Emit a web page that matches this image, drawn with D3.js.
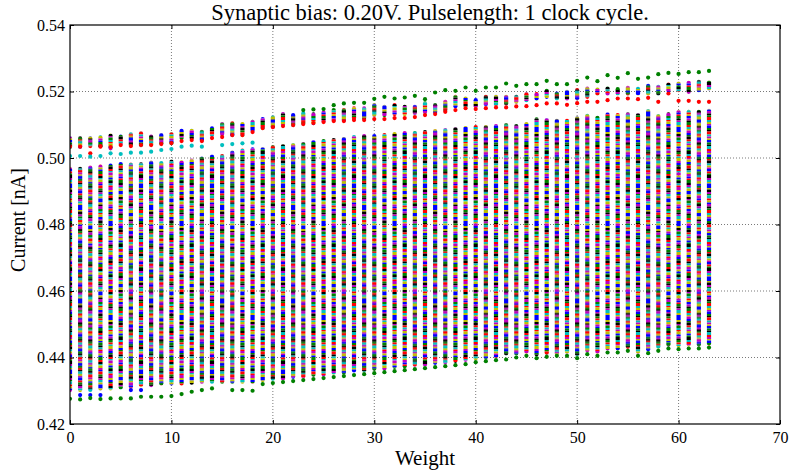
<!DOCTYPE html>
<html>
<head>
<meta charset="utf-8">
<script src="https://cdn.jsdelivr.net/npm/d3@7"></script>
<style>
  body { margin: 0; background: #fff; }
  svg { display: block; font-family: "Liberation Serif", "DejaVu Serif", serif; }
</style>
</head>
<body>
<script>
// weights (x) and tick labels
const weights = [0,1,2,3,4,5,6,7,8,9,10,11,12,13,14,15,16,17,18,19,20,21,22,23,24,25,26,27,28,29,30,31,
  32,33,34,35,36,37,38,39,40,41,42,43,44,45,46,47,48,49,50,51,52,53,54,55,56,57,58,59,60,61,62,63];
const xTicks = [0, 10, 20, 30, 40, 50, 60, 70];
const yTicks = [0.42, 0.44, 0.46, 0.48, 0.50, 0.52, 0.54];

// dense band of curves: top and bottom current per weight [nA]
const bandHigh = [0.4967,0.4967,0.4971,0.4974,0.4977,0.4982,0.4980,0.4981,0.4986,0.4985,
  0.4989,0.4987,0.4992,0.4998,0.5004,0.5006,0.5016,0.5022,0.5026,0.5027,
  0.5033,0.5036,0.5039,0.5042,0.5048,0.5051,0.5054,0.5057,0.5063,0.5066,
  0.5066,0.5069,0.5072,0.5075,0.5075,0.5078,0.5081,0.5084,0.5087,0.5090,
  0.5093,0.5093,0.5096,0.5099,0.5096,0.5102,0.5116,0.5114,0.5112,0.5112,
  0.5119,0.5127,0.5121,0.5131,0.5129,0.5131,0.5129,0.5141,0.5126,0.5131,
  0.5139,0.5139,0.5139,0.5142];
const bandLow = [0.4302,0.4302,0.4302,0.4307,0.4307,0.4310,0.4312,0.4317,0.4317,0.4322,
  0.4322,0.4322,0.4324,0.4327,0.4327,0.4327,0.4327,0.4327,0.4327,0.4332,
  0.4336,0.4337,0.4342,0.4343,0.4348,0.4349,0.4354,0.4355,0.4361,0.4362,
  0.4366,0.4367,0.4372,0.4374,0.4378,0.4379,0.4384,0.4386,0.4390,0.4393,
  0.4398,0.4401,0.4404,0.4412,0.4412,0.4417,0.4410,0.4414,0.4412,0.4417,
  0.4410,0.4422,0.4417,0.4427,0.4427,0.4432,0.4417,0.4425,0.4432,0.4439,
  0.4437,0.4439,0.4439,0.4442];

// small group of curves above the band
const clusterHigh = [0.5060,0.5059,0.5059,0.5062,0.5067,0.5064,0.5071,0.5074,0.5064,0.5069,
  0.5072,0.5082,0.5082,0.5079,0.5089,0.5102,0.5104,0.5102,0.5109,0.5117,
  0.5122,0.5132,0.5129,0.5134,0.5131,0.5137,0.5144,0.5144,0.5149,0.5149,
  0.5159,0.5154,0.5159,0.5154,0.5154,0.5164,0.5159,0.5169,0.5184,0.5179,
  0.5174,0.5184,0.5184,0.5184,0.5184,0.5192,0.5192,0.5202,0.5194,0.5199,
  0.5204,0.5209,0.5206,0.5209,0.5207,0.5211,0.5208,0.5217,0.5214,0.5221,
  0.5224,0.5226,0.5229,0.5227];
const clusterLow = [0.5033,0.5034,0.5036,0.5034,0.5029,0.5044,0.5039,0.5039,0.5041,0.5044,
  0.5045,0.5060,0.5060,0.5054,0.5069,0.5072,0.5069,0.5069,0.5084,0.5090,
  0.5093,0.5102,0.5099,0.5105,0.5105,0.5111,0.5114,0.5114,0.5120,0.5120,
  0.5129,0.5129,0.5132,0.5132,0.5135,0.5138,0.5138,0.5144,0.5156,0.5156,
  0.5156,0.5162,0.5162,0.5164,0.5169,0.5174,0.5179,0.5184,0.5179,0.5179,
  0.5180,0.5184,0.5194,0.5194,0.5194,0.5194,0.5194,0.5194,0.5194,0.5204,
  0.5204,0.5199,0.5204,0.5209];

// single curves that stand apart
const greenTop = [null,null,null,null,null,null,null,null,null,null,
  null,null,null,null,null,null,null,null,null,null,
  null,null,null,0.5144,0.5146,0.5147,0.5159,0.5164,0.5166,0.5166,
  0.5178,0.5184,0.5179,0.5182,0.5187,0.5177,0.5197,0.5204,0.5202,0.5212,
  0.5202,0.5212,0.5212,0.5224,0.5217,0.5222,0.5222,0.5232,0.5222,0.5222,
  0.5232,0.5242,0.5231,0.5249,0.5241,0.5255,0.5238,0.5242,0.5252,0.5256,
  0.5253,0.5258,0.5258,0.5262];
const redRow = [0.5034,0.5034,0.5014,0.5036,0.5033,0.5039,0.5036,0.5039,0.5039,0.5042,
  0.5045,0.5051,0.5054,0.5051,0.5060,0.5063,0.5069,0.5069,0.5078,0.5090,
  0.5093,0.5096,0.5099,0.5102,0.5105,0.5108,0.5111,0.5111,0.5114,0.5114,
  0.5117,0.5117,0.5120,0.5120,0.5123,0.5129,0.5132,0.5139,0.5144,0.5150,
  0.5147,0.5150,0.5152,0.5152,0.5155,0.5156,0.5159,0.5164,0.5164,0.5160,
  0.5165,0.5169,0.5169,0.5174,0.5179,0.5179,0.5177,0.5181,0.5169,0.5194,
  0.5172,0.5172,0.5169,0.5169];
const cyanRow = [0.5006,0.5006,0.5004,0.5006,0.5014,0.5012,0.5016,0.5016,0.5019,0.5024,
  0.5027,0.5034,0.5037,0.5034,null,0.5039,0.5042,0.5044,0.5046,null];
const greenBottom = [0.4276,0.4274,0.4278,0.4275,0.4277,0.4277,0.4277,0.4282,0.4282,0.4282,
  0.4284,0.4290,0.4297,0.4302,0.4307,null,0.4302,0.4302,0.4300,0.4320,
  0.4323,0.4326,0.4329,0.4332,0.4335,0.4338,0.4341,0.4344,0.4347,0.4350,
  0.4353,0.4356,0.4359,0.4362,0.4365,0.4368,0.4371,0.4374,0.4377,0.4380,
  0.4386,0.4389,0.4392,0.4394,0.4400,0.4405,0.4398,0.4402,0.4405,0.4405,
  0.4398,0.4410,0.4405,0.4415,0.4415,0.4420,0.4405,0.4413,0.4420,0.4427,
  0.4425,0.4427,0.4427,0.4430];
const blueBottom = [null,0.4287,0.4287,0.4287,null,null,0.4302,0.4302];

const W = 792, H = 474;
const colors = { b: '#0000ff', g: '#008000', r: '#ff0000', c: '#00bfbf', m: '#bf00bf', y: '#bfbf00', k: '#000000' };
const stripeOrder = 'bykmgcrybmkgrcymbgkrcmybgkcrmybgrkcymbrgkmcyb'.split('');
const stripeHeights = [2, 1.5, 2.5, 2, 1.5, 3, 2];

const x = d3.scaleLinear().domain([0, 70]).range([70, 780]);
const y = d3.scaleLinear().domain([0.42, 0.54]).range([424, 25]);

const svg = d3.select('body').append('svg').attr('width', W).attr('height', H);
svg.append('rect').attr('width', W).attr('height', H).attr('fill', '#fff');

const defs = svg.append('defs');
defs.append('clipPath').attr('id', 'plot').append('rect')
  .attr('x', 70).attr('y', 25).attr('width', 710).attr('height', 399);

// striped fill standing in for the pile of overlapping coloured dots
for (let k = 0; k < 7; k++) {
  let pos = 0;
  const p = defs.append('pattern').attr('id', 'mix' + k)
    .attr('patternUnits', 'userSpaceOnUse').attr('width', 20)
    .attr('patternTransform', `translate(0, ${k * 7})`);
  stripeOrder.forEach((c, i) => {
    const h = stripeHeights[(i + k) % stripeHeights.length];
    p.append('rect').attr('x', 0).attr('y', pos).attr('width', 20).attr('height', h)
      .attr('fill', colors[c]);
    pos += h;
  });
  p.attr('height', pos);
}

// grid
const grid = svg.append('g').attr('stroke', '#000').attr('stroke-width', 0.7)
  .attr('stroke-dasharray', '1,2').attr('opacity', 0.75);
grid.selectAll('.gx').data(xTicks.slice(1, -1)).enter().append('line')
  .attr('x1', d => x(d)).attr('x2', d => x(d)).attr('y1', 25).attr('y2', 424);
grid.selectAll('.gy').data(yTicks.slice(1, -1)).enter().append('line')
  .attr('y1', d => y(d)).attr('y2', d => y(d)).attr('x1', 70).attr('x2', 780);

const plot = svg.append('g').attr('clip-path', 'url(#plot)');
const r = 2.1;

const bars = (hi, lo) => plot.append('g').selectAll('rect').data(weights).enter().append('rect')
  .attr('x', d => x(d) - r).attr('width', 2 * r)
  .attr('y', (d, i) => y(hi[i]) - r)
  .attr('height', (d, i) => y(lo[i]) - y(hi[i]) + 2 * r)
  .attr('rx', r)
  .attr('fill', (d, i) => `url(#mix${(i * 3) % 7})`);

bars(bandHigh, bandLow);
bars(clusterHigh, clusterLow);

const dots = (vals, col) => plot.append('g').selectAll('circle')
  .data(weights.filter((d, i) => vals[i] != null).map(d => [d, vals[d]]))
  .enter().append('circle')
  .attr('cx', d => x(d[0])).attr('cy', d => y(d[1])).attr('r', r).attr('fill', col);

dots(redRow, colors.r);
dots(cyanRow, colors.c);
dots(greenTop, colors.g);
dots(blueBottom, colors.b);
dots(greenBottom, colors.g);

// frame
svg.append('rect').attr('x', 70).attr('y', 25).attr('width', 710).attr('height', 399)
  .attr('fill', 'none').attr('stroke', '#000').attr('stroke-width', 1.2);

const styleAxis = g => {
  g.select('.domain').remove();
  g.selectAll('.tick line').attr('stroke', '#000');
  g.selectAll('text').attr('font-family', 'Liberation Serif, serif').attr('font-size', 16).attr('fill', '#000');
};

svg.append('g').attr('transform', 'translate(0,424)')
  .call(d3.axisBottom(x).tickValues(xTicks).tickSizeInner(-4).tickSizeOuter(0).tickPadding(8).tickFormat(d3.format('d')))
  .call(styleAxis);
svg.append('g').attr('transform', 'translate(0,25)')
  .call(d3.axisTop(x).tickValues(xTicks).tickSizeInner(-4).tickSizeOuter(0).tickFormat(''))
  .call(styleAxis);
svg.append('g').attr('transform', 'translate(70,0)')
  .call(d3.axisLeft(y).tickValues(yTicks).tickSizeInner(-4).tickSizeOuter(0).tickPadding(5).tickFormat(d3.format('.2f')))
  .call(styleAxis);
svg.append('g').attr('transform', 'translate(780,0)')
  .call(d3.axisRight(y).tickValues(yTicks).tickSizeInner(-4).tickSizeOuter(0).tickFormat(''))
  .call(styleAxis);

svg.append('text').attr('x', 430).attr('y', 20).attr('text-anchor', 'middle')
  .attr('font-size', 22.5).text('Synaptic bias: 0.20V. Pulselength: 1 clock cycle.');
svg.append('text').attr('x', 425).attr('y', 465).attr('text-anchor', 'middle')
  .attr('font-size', 21).text('Weight');
svg.append('text').attr('transform', 'translate(25,220) rotate(-90)').attr('text-anchor', 'middle')
  .attr('font-size', 20).text('Current [nA]');
</script>
</body>
</html>
